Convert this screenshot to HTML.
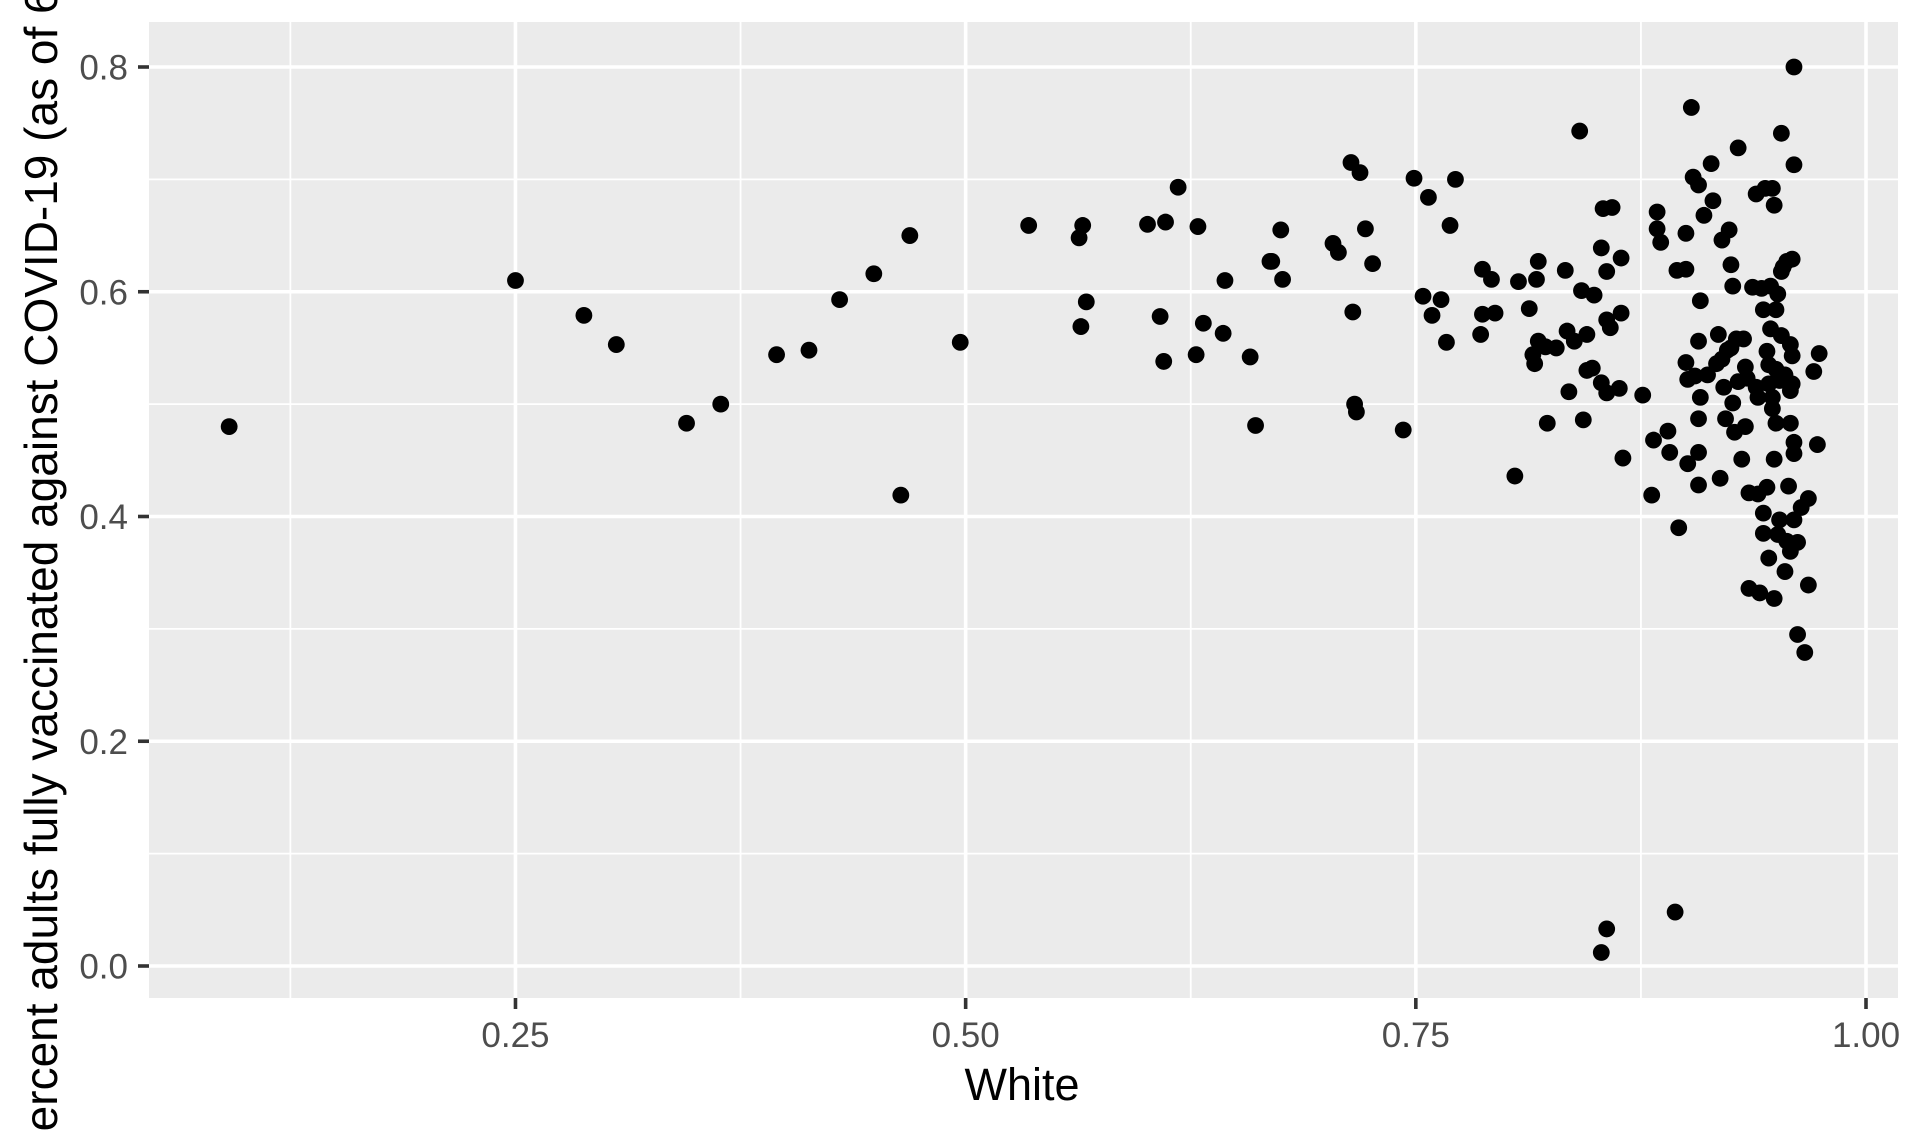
<!DOCTYPE html>
<html><head><meta charset="utf-8"><style>
html,body{margin:0;padding:0;background:#fff;}
svg{display:block;font-family:"Liberation Sans",Arial,sans-serif;}
</style></head><body>
<svg id="chart" width="1921" height="1131" viewBox="0 0 1921 1131" xmlns="http://www.w3.org/2000/svg">
<rect x="149" y="22" width="1749" height="976" fill="#EBEBEB"/>
<g id="grid"></g>
<g id="points"></g>
<g id="axes"></g>
<text x="1022" y="1100" font-size="45" text-anchor="middle" fill="#000">White</text>
<text x="0" y="0" font-size="46" fill="#000" transform="translate(57,1162) rotate(-90)">Percent adults fully vaccinated against COVID-19 (as of 6/10/21)</text>
</svg>
<script>
const xTicks=[0.25,0.5,0.75,1.0];
const xTickLabels=["0.25","0.50","0.75","1.00"];
const xMinor=[0.125,0.375,0.625,0.875];
const yTicks=[0,0.2,0.4,0.6,0.8];
const yTickLabels=["0.0","0.2","0.4","0.6","0.8"];
const yMinor=[0.1,0.3,0.5,0.7];
const whiteShare=[0.091,0.25,0.288,0.306,0.345,0.364,0.395,0.413,0.43,0.449,0.464,0.469,0.497,0.535,0.563,0.565,0.564,0.567,0.601,0.608,0.611,0.61,0.618,0.629,0.628,0.632,0.643,0.644,0.658,0.661,0.669,0.67,0.675,0.676,0.704,0.707,0.714,0.719,0.722,0.726,0.715,0.716,0.717,0.743,0.749,0.757,0.754,0.759,0.764,0.767,0.769,0.772,0.787,0.792,0.794,0.787,0.786,0.807,0.805,0.813,0.815,0.816,0.818,0.817,0.818,0.822,0.823,0.828,0.833,0.835,0.834,0.838,0.841,0.842,0.843,0.845,0.845,0.848,0.849,0.853,0.853,0.856,0.856,0.856,0.854,0.859,0.858,0.863,0.864,0.864,0.865,0.876,0.853,0.856,0.884,0.884,0.886,0.882,0.881,0.89,0.891,0.895,0.896,0.894,0.9,0.9,0.9,0.903,0.901,0.901,0.904,0.907,0.908,0.907,0.907,0.907,0.907,0.908,0.905,0.91,0.914,0.915,0.912,0.917,0.918,0.92,0.92,0.921,0.922,0.919,0.923,0.924,0.925,0.926,0.926,0.927,0.925,0.929,0.929,0.928,0.932,0.931,0.933,0.934,0.933,0.935,0.935,0.937,0.939,0.94,0.94,0.941,0.939,0.942,0.943,0.943,0.943,0.944,0.945,0.946,0.946,0.945,0.946,0.947,0.947,0.948,0.948,0.949,0.949,0.948,0.949,0.95,0.95,0.951,0.95,0.951,0.952,0.952,0.953,0.953,0.953,0.954,0.955,0.955,0.956,0.957,0.956,0.958,0.958,0.958,0.958,0.959,0.959,0.96,0.96,0.959,0.96,0.96,0.96,0.962,0.962,0.964,0.966,0.968,0.968,0.971,0.973,0.974];
const vaccinated=[0.48,0.61,0.579,0.553,0.483,0.5,0.544,0.548,0.593,0.616,0.419,0.65,0.555,0.659,0.648,0.659,0.569,0.591,0.66,0.578,0.662,0.538,0.693,0.658,0.544,0.572,0.563,0.61,0.542,0.481,0.627,0.627,0.655,0.611,0.643,0.635,0.715,0.706,0.656,0.625,0.582,0.5,0.493,0.477,0.701,0.684,0.596,0.579,0.593,0.555,0.659,0.7,0.62,0.611,0.581,0.58,0.562,0.609,0.436,0.585,0.544,0.536,0.627,0.611,0.556,0.551,0.483,0.55,0.619,0.511,0.565,0.556,0.743,0.601,0.486,0.53,0.562,0.532,0.597,0.639,0.519,0.51,0.575,0.618,0.674,0.675,0.568,0.514,0.581,0.63,0.452,0.508,0.012,0.033,0.671,0.656,0.644,0.468,0.419,0.476,0.457,0.619,0.39,0.048,0.62,0.652,0.537,0.764,0.522,0.447,0.702,0.695,0.592,0.457,0.428,0.487,0.556,0.506,0.525,0.668,0.714,0.681,0.526,0.536,0.562,0.646,0.54,0.515,0.487,0.434,0.548,0.655,0.624,0.605,0.501,0.475,0.55,0.728,0.52,0.558,0.558,0.451,0.533,0.523,0.48,0.421,0.336,0.604,0.687,0.506,0.42,0.332,0.515,0.603,0.584,0.403,0.385,0.692,0.547,0.518,0.535,0.426,0.363,0.605,0.567,0.506,0.496,0.327,0.451,0.692,0.677,0.531,0.483,0.598,0.584,0.384,0.397,0.521,0.618,0.561,0.741,0.622,0.526,0.351,0.378,0.427,0.627,0.512,0.553,0.369,0.483,0.543,0.629,0.8,0.713,0.518,0.466,0.456,0.397,0.377,0.295,0.408,0.279,0.416,0.339,0.529,0.464,0.545];

const NS="http://www.w3.org/2000/svg";
const L=149,R=1898,T=22,B=998;
function xs(v){return 65.3+v*1800.7;}
function ys(v){return 966-v*1123.75;}
function mk(tag,attrs,parent){const e=document.createElementNS(NS,tag);for(const k in attrs)e.setAttribute(k,attrs[k]);parent.appendChild(e);return e;}
const grid=document.getElementById('grid'),pts=document.getElementById('points'),axes=document.getElementById('axes');
xMinor.forEach(v=>{const e=mk('line',{x1:xs(v),x2:xs(v),y1:T,y2:B,stroke:'#fff','stroke-width':1.8},grid);

});
yMinor.forEach(v=>{const e=mk('line',{x1:L,x2:R,y1:ys(v),y2:ys(v),stroke:'#fff','stroke-width':1.8},grid);

});
xTicks.forEach((v,i)=>{const g=mk('line',{x1:xs(v),x2:xs(v),y1:T,y2:B,stroke:'#fff','stroke-width':3.6},grid);


const t=mk('line',{x1:xs(v),x2:xs(v),y1:B,y2:B+11,stroke:'#333','stroke-width':3.6},axes);


const l=mk('text',{x:xs(v),y:1047,'font-size':35,'text-anchor':'middle',fill:'#4D4D4D'},axes);l.textContent=xTickLabels[i];

});
yTicks.forEach((v,i)=>{const g=mk('line',{x1:L,x2:R,y1:ys(v),y2:ys(v),stroke:'#fff','stroke-width':3.6},grid);


const t=mk('line',{x1:L-11,x2:L,y1:ys(v),y2:ys(v),stroke:'#333','stroke-width':3.6},axes);


const l=mk('text',{x:128,y:ys(v)+12.5,'font-size':35,'text-anchor':'end',fill:'#4D4D4D'},axes);l.textContent=yTickLabels[i];

});
whiteShare.forEach((v,i)=>{const c=mk('circle',{cx:xs(v),cy:ys(vaccinated[i]),r:8.4,fill:'#000'},pts);

});
</script>
</body></html>
